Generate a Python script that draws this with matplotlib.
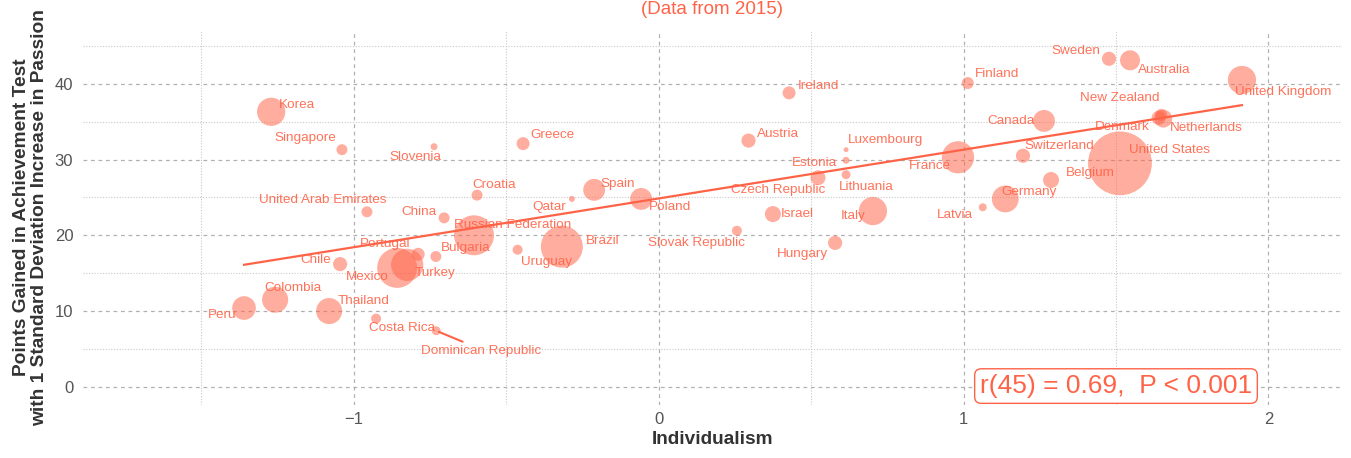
import matplotlib.pyplot as plt
import numpy as np

plt.rcParams['font.family'] = ['Liberation Sans', 'DejaVu Sans']

# data
countries = ["Korea", "Singapore", "Slovenia", "United Arab Emirates", "China", "Croatia",
             "Greece", "Qatar", "Spain", "Poland", "Russian Federation", "Bulgaria",
             "Portugal", "Mexico", "Turkey", "Chile", "Colombia", "Peru", "Thailand",
             "Costa Rica", "Dominican Republic", "Uruguay", "Brazil", "Slovak Republic",
             "Hungary", "Ireland", "Austria", "Luxembourg", "Estonia", "Lithuania",
             "Czech Republic", "Israel", "Italy", "France", "Latvia", "Germany", "Finland",
             "Canada", "Switzerland", "Belgium", "United States", "Sweden", "Australia",
             "New Zealand", "Denmark", "Netherlands", "United Kingdom"]
individualism = [-1.270, -1.038, -0.736, -0.956, -0.703, -0.595,
                 -0.444, -0.284, -0.211, -0.057, -0.605, -0.730,
                 -0.788, -0.857, -0.824, -1.044, -1.257, -1.359, -1.080,
                 -0.926, -0.729, -0.462, -0.317, 0.257,
                 0.579, 0.428, 0.295, 0.615, 0.615, 0.615,
                 0.523, 0.375, 0.703, 0.982, 1.063, 1.137, 1.014,
                 1.264, 1.195, 1.287, 1.513, 1.477, 1.546,
                 1.648, 1.640, 1.655, 1.913]
points_gained = [36.3, 31.3, 31.7, 23.1, 22.3, 25.3,
                 32.1, 24.8, 26.0, 24.8, 20.0, 17.2,
                 17.5, 15.7, 16.1, 16.2, 11.5, 10.4, 10.0,
                 9.0, 7.4, 18.1, 18.5, 20.6,
                 19.0, 38.8, 32.5, 31.3, 29.9, 28.0,
                 27.6, 22.8, 23.2, 30.3, 23.7, 24.8, 40.1,
                 35.1, 30.5, 27.3, 29.5, 43.3, 43.1,
                 35.9, 35.5, 35.4, 40.5]
weight = [20, 3, 1.2, 3, 3, 3,
          4.2, 0.9, 12, 12, 40, 3,
          4.2, 40, 26, 5, 17, 14, 17,
          2.5, 2, 2.5, 44, 2.5,
          5, 4.2, 5, 0.6, 1.2, 2,
          5.6, 6.4, 20, 26, 1.6, 18, 3.6,
          12, 5, 6.4, 102, 5, 10,
          3.6, 5, 8, 20]

# label placement (screen pixels from the point: right, down)
label_offsets = {
    "Korea": (26, -7), "Singapore": (-37, -12), "Slovenia": (-19, 10),
    "United Arab Emirates": (-44, -12), "China": (-25, -6), "Croatia": (17, -10),
    "Greece": (29, -9), "Qatar": (-23, 8), "Spain": (24, -6), "Poland": (29, 8),
    "Russian Federation": (39, -10), "Bulgaria": (30, -9), "Portugal": (-33, -10),
    "Mexico": (-30, 9), "Turkey": (28, 8), "Chile": (-24, -4), "Colombia": (18, -12),
    "Peru": (-22, 7), "Thailand": (34, -10), "Costa Rica": (26, 9),
    "Dominican Republic": (45, 20), "Uruguay": (29, 12), "Brazil": (41, -6),
    "Slovak Republic": (-40, 12), "Hungary": (-33, 11), "Ireland": (29, -7),
    "Austria": (29, -7), "Luxembourg": (39, -10), "Estonia": (-32, 3),
    "Lithuania": (20, 12), "Czech Republic": (-40, 12), "Israel": (24, 0),
    "Italy": (-20, 5), "France": (-28, 9), "Latvia": (-28, 8), "Germany": (24, -7),
    "Finland": (29, -9), "Canada": (-33, 0), "Switzerland": (36, -10),
    "Belgium": (39, -7), "United States": (50, -13), "Sweden": (-33, -8),
    "Australia": (34, 10), "New Zealand": (-41, -17), "Denmark": (-36, 9),
    "Netherlands": (43, 9), "United Kingdom": (41, 12),
}

col = '#FF6347'
x = np.array(individualism)
y = np.array(points_gained)
w = np.array(weight)

fig = plt.figure(figsize=(13.51, 4.58), dpi=100)
ax = fig.add_axes([83 / 1351, 53 / 458, 1259 / 1351, 375 / 458])

ax.scatter(x, y, s=w * 20.7, color=col, alpha=0.52, edgecolor='none', zorder=3)

# regression line
slope, icpt = np.polyfit(x, y, 1)
xs = np.array([x.min(), x.max()])
ax.plot(xs, icpt + slope * xs, color=col, lw=1.6, zorder=4)

for c, xi, yi in zip(countries, x, y):
    dx, dy = label_offsets[c]
    ax.annotate(c, (xi, yi), xytext=(dx, -dy), textcoords='offset pixels',
                ha='center', va='center', fontsize=9.7, color=col, alpha=0.9, zorder=5)
# segment for the repelled label
ax.annotate("", (x[20], y[20]), xytext=(29, -12), textcoords='offset pixels',
            arrowprops=dict(arrowstyle='-', color=col, lw=1.5))

ax.text(1.5, 0.1, "r(45) = 0.69,  P < 0.001", ha='center', va='center', fontsize=19,
        color=col, zorder=6,
        bbox=dict(boxstyle='round,pad=0.2,rounding_size=0.25', fc='white', ec=col, lw=1))

ax.set_xlim(-1.887, 2.241)
ax.set_ylim(-2.4, 47.1)
ax.set_xticks([-1, 0, 1, 2])
ax.set_xticklabels(['\u22121', '0', '1', '2'])
ax.set_yticks([0, 10, 20, 30, 40])
ax.set_xticks([-1.5, -0.5, 0.5, 1.5], minor=True)
ax.set_yticks([5, 15, 25, 35, 45], minor=True)
ax.grid(which='major', color='#b0b0b0', ls=(0, (3, 3)), lw=0.9)
ax.grid(which='minor', color='#c8c8c8', ls=(0, (1, 1.5)), lw=0.8)
ax.set_axisbelow(True)
for s in ax.spines.values():
    s.set_visible(False)
ax.tick_params(which='both', length=0, labelsize=12, colors='#555555')
ax.tick_params(axis='x', pad=5)
ax.tick_params(axis='y', pad=7)

ax.set_xlabel("Individualism", fontsize=13.7, fontweight='bold', color='#333333', labelpad=3)
ax.set_ylabel("Points Gained in Achievement Test\nwith 1 Standard Deviation Increase in Passion",
              fontsize=13.8, fontweight='bold', color='#333333', labelpad=5, linespacing=1.05)
fig.text(712 / 1351, 1 - 1 / 458, "(Data from 2015)", fontsize=13.5, color=col,
         ha='center', va='top')

fig.savefig('out.png', dpi=100)
